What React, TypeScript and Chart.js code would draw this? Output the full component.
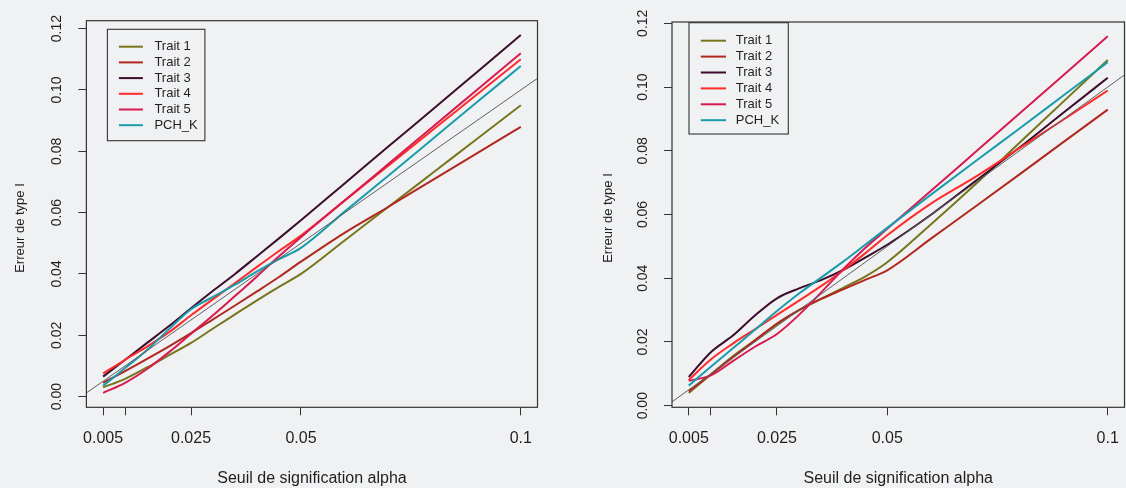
import React, { useEffect, useRef } from 'react';
import { Chart, registerables } from 'chart.js';

Chart.register(...registerables);

// ---------- data ----------
const ALPHA = [0.005, 0.01, 0.015, 0.02, 0.025, 0.03, 0.035, 0.04, 0.045, 0.05, 0.06, 0.07, 0.08, 0.09, 0.1];

const SERIES_LABELS = ['Trait 1', 'Trait 2', 'Trait 3', 'Trait 4', 'Trait 5', 'PCH_K'];
const SERIES_COLORS = ['#77761c', '#b0281e', '#3b0d2d', '#ff2b2b', '#d81b4f', '#1b9cad'];

// left panel
const LEFT_TRAIT1 = [0.003, 0.0058, 0.0095, 0.0135, 0.0175, 0.0222, 0.0268, 0.0314, 0.0358, 0.040, 0.051, 0.062, 0.073, 0.084, 0.095];
const LEFT_TRAIT2 = [0.0045, 0.0083, 0.0123, 0.0164, 0.0207, 0.0252, 0.0297, 0.0343, 0.039, 0.044, 0.0535, 0.062, 0.0707, 0.0793, 0.088];
const LEFT_TRAIT3 = [0.0065, 0.012, 0.0175, 0.023, 0.0288, 0.0345, 0.040, 0.0458, 0.0516, 0.0575, 0.0696, 0.0817, 0.0937, 0.1058, 0.1179];
const LEFT_TRAIT4 = [0.0075, 0.012, 0.0163, 0.021, 0.0265, 0.0318, 0.037, 0.0423, 0.0475, 0.0525, 0.064, 0.0755, 0.087, 0.0985, 0.110];
const LEFT_TRAIT5 = [0.0012, 0.0045, 0.009, 0.0145, 0.0205, 0.0265, 0.0328, 0.0392, 0.0458, 0.052, 0.064, 0.076, 0.088, 0.100, 0.112];
const LEFT_PCH_K = [0.0035, 0.0093, 0.0152, 0.022, 0.0285, 0.0325, 0.0365, 0.0408, 0.0448, 0.0485, 0.0604, 0.0722, 0.0841, 0.096, 0.1078];

// right panel
const RIGHT_TRAIT1 = [0.004, 0.0098, 0.0155, 0.0205, 0.0255, 0.030, 0.0335, 0.037, 0.0405, 0.045, 0.057, 0.0695, 0.0825, 0.0955, 0.1085];
const RIGHT_TRAIT2 = [0.0045, 0.0098, 0.0152, 0.0205, 0.0258, 0.030, 0.0335, 0.0365, 0.0395, 0.0425, 0.0525, 0.0625, 0.0726, 0.0828, 0.0929];
const RIGHT_TRAIT3 = [0.009, 0.0168, 0.022, 0.0283, 0.0337, 0.0368, 0.0394, 0.0426, 0.0465, 0.0505, 0.060, 0.0705, 0.081, 0.092, 0.1029];
const RIGHT_TRAIT4 = [0.0081, 0.0145, 0.0195, 0.024, 0.0285, 0.033, 0.0375, 0.0425, 0.0478, 0.0535, 0.0635, 0.0718, 0.0808, 0.0898, 0.0989];
const RIGHT_TRAIT5 = [0.0078, 0.0095, 0.014, 0.0185, 0.0225, 0.0285, 0.0355, 0.0428, 0.0495, 0.0555, 0.0675, 0.0796, 0.0917, 0.1038, 0.1159];
const RIGHT_PCH_K = [0.0063, 0.0122, 0.018, 0.0238, 0.0297, 0.0352, 0.0402, 0.0452, 0.0505, 0.0558, 0.0663, 0.0767, 0.087, 0.0974, 0.1078];

const LEFT_SERIES = [LEFT_TRAIT1, LEFT_TRAIT2, LEFT_TRAIT3, LEFT_TRAIT4, LEFT_TRAIT5, LEFT_PCH_K];
const RIGHT_SERIES = [RIGHT_TRAIT1, RIGHT_TRAIT2, RIGHT_TRAIT3, RIGHT_TRAIT4, RIGHT_TRAIT5, RIGHT_PCH_K];

const X_TICKS = [0.005, 0.01, 0.025, 0.05, 0.1];
const X_TICK_LABELS = ['0.005', '', '0.025', '0.05', '0.1'];
const Y_TICKS = [0, 0.02, 0.04, 0.06, 0.08, 0.1, 0.12];
const Y_TICK_LABELS = ['0.00', '0.02', '0.04', '0.06', '0.08', '0.10', '0.12'];
const DIAGONAL = [0, 0.2];

const X_TITLE = 'Seuil de signification alpha';
const Y_TITLE = 'Erreur de type I';

const X_MIN = 0.0012;
const X_MAX = 0.1038;

// ---------- styling / layout ----------
const FONT = '"Liberation Sans", Arial, Helvetica, sans-serif';
const TEXT = '#1f1f1f';
const AXIS = '#333333';
const BG = '#f0f1f3';
const CANVAS_W = 563;
const CANVAS_H = 488;

type LegendLayout = {
  boxX: number; boxY: number; boxW: number; boxH: number;
  lineX0: number; lineX1: number; textX: number; row0: number; rowGap: number;
};
type PanelLayout = {
  left: number; yAxisWidth: number; padTop: number; padRight: number; xAxisHeight: number;
  yMin: number; yMax: number; yTitleX: number; yTitleY: number; yTitleSize: number;
  legend: LegendLayout;
};

const LEFT_LAYOUT: PanelLayout = {
  left: 0, yAxisWidth: 86.4, padTop: 20.7, padRight: 25.5, xAxisHeight: 80.7,
  yMin: -0.0035, yMax: 0.1226, yTitleX: 20, yTitleY: 228, yTitleSize: 13,
  legend: { boxX: 21, boxY: 8.6, boxW: 97.5, boxH: 111.4, lineX0: 32.5, lineX1: 56.5, textX: 68, row0: 26, rowGap: 15.7 },
};
const RIGHT_LAYOUT: PanelLayout = {
  left: 563, yAxisWidth: 109, padTop: 22, padRight: 1.5, xAxisHeight: 80.7,
  yMin: -0.0005, yMax: 0.1204, yTitleX: 45.7, yTitleY: 218, yTitleSize: 13,
  legend: { boxX: 17, boxY: 0.7, boxW: 99.3, boxH: 111.3, lineX0: 28.8, lineX1: 54, textX: 63.8, row0: 18.7, rowGap: 15.9 },
};

const boxPlugin = {
  id: 'plotBox',
  afterDatasetsDraw(chart: any) {
    const { ctx, chartArea: a } = chart;
    ctx.save();
    ctx.strokeStyle = AXIS;
    ctx.lineWidth = 1.2;
    ctx.strokeRect(a.left, a.top, a.right - a.left, a.bottom - a.top);
    ctx.restore();
  },
};

function makeLegendPlugin(lg: LegendLayout) {
  return {
    id: 'rLegend',
    afterDraw(chart: any) {
      const { ctx, chartArea: a } = chart;
      ctx.save();
      ctx.strokeStyle = AXIS;
      ctx.lineWidth = 1.1;
      ctx.strokeRect(a.left + lg.boxX, a.top + lg.boxY, lg.boxW, lg.boxH);
      ctx.font = `13px ${FONT}`;
      ctx.textBaseline = 'middle';
      ctx.textAlign = 'left';
      const items = chart.data.datasets.filter((d: any) => SERIES_LABELS.includes(d.label));
      items.forEach((d: any, i: number) => {
        const y = a.top + lg.row0 + i * lg.rowGap;
        ctx.strokeStyle = d.borderColor;
        ctx.lineWidth = 2;
        ctx.beginPath();
        ctx.moveTo(a.left + lg.lineX0, y);
        ctx.lineTo(a.left + lg.lineX1, y);
        ctx.stroke();
        ctx.fillStyle = TEXT;
        ctx.fillText(d.label, a.left + lg.textX, y);
      });
      ctx.restore();
    },
  };
}

function makeYTitlePlugin(p: PanelLayout) {
  return {
    id: 'yTitle',
    afterDraw(chart: any) {
      const { ctx } = chart;
      ctx.save();
      ctx.translate(p.yTitleX, p.yTitleY);
      ctx.rotate(-Math.PI / 2);
      ctx.font = `${p.yTitleSize}px ${FONT}`;
      ctx.fillStyle = TEXT;
      ctx.textAlign = 'center';
      ctx.textBaseline = 'middle';
      ctx.fillText(Y_TITLE, 0, 0);
      ctx.restore();
    },
  };
}

function Panel({ series, layout }: { series: number[][]; layout: PanelLayout }) {
  const ref = useRef<HTMLCanvasElement>(null);
  useEffect(() => {
    const canvas = ref.current;
    if (!canvas) return;
    const datasets: any[] = [
      {
        label: 'diag',
        data: DIAGONAL.map((v) => ({ x: v, y: v })),
        borderColor: '#5f5f5f',
        borderWidth: 1,
        pointRadius: 0,
        tension: 0,
        order: -1,
      },
      ...series.map((vals, i) => ({
        label: SERIES_LABELS[i],
        data: ALPHA.map((a, j) => ({ x: a, y: vals[j] })),
        borderColor: SERIES_COLORS[i],
        borderWidth: 2,
        pointRadius: 0,
        cubicInterpolationMode: 'monotone',
        order: 10 - i,
      })),
    ];
    const chart = new Chart(canvas, {
      type: 'line',
      data: { datasets },
      options: {
        responsive: false,
        animation: false,
        events: [],
        layout: { padding: { left: 0, top: layout.padTop, right: layout.padRight, bottom: 0 } },
        plugins: { legend: { display: false }, tooltip: { enabled: false } },
        scales: {
          x: {
            type: 'linear',
            min: X_MIN,
            max: X_MAX,
            afterBuildTicks: (s: any) => { s.ticks = X_TICKS.map((v) => ({ value: v })); },
            afterFit: (s: any) => { s.height = layout.xAxisHeight; s.paddingLeft = 0; s.paddingRight = 0; },
            ticks: {
              autoSkip: false, maxRotation: 0, minRotation: 0, padding: 14, color: TEXT,
              font: { size: 16, family: FONT },
              callback: (_v: any, i: number) => X_TICK_LABELS[i],
            },
            grid: { drawOnChartArea: false, drawTicks: true, tickLength: 8, color: AXIS, lineWidth: 1 },
            border: { display: false },
            title: { display: true, text: X_TITLE, color: TEXT, font: { size: 16, family: FONT }, padding: { top: 0, bottom: 0 } },
          },
          y: {
            type: 'linear',
            min: layout.yMin,
            max: layout.yMax,
            afterBuildTicks: (s: any) => { s.ticks = Y_TICKS.map((v) => ({ value: v })); },
            afterFit: (s: any) => { s.width = layout.yAxisWidth; s.paddingTop = 0; s.paddingBottom = 0; },
            ticks: {
              autoSkip: false, minRotation: 90, maxRotation: 90, crossAlign: 'center', padding: 7.5, color: TEXT,
              font: { size: 14, family: FONT },
              callback: (_v: any, i: number) => Y_TICK_LABELS[i],
            },
            grid: { drawOnChartArea: false, drawTicks: true, tickLength: 8, color: AXIS, lineWidth: 1 },
            border: { display: false },
          },
        },
      } as any,
      plugins: [boxPlugin, makeLegendPlugin(layout.legend), makeYTitlePlugin(layout)],
    });
    return () => chart.destroy();
  }, [series, layout]);
  return (
    <canvas
      ref={ref}
      width={CANVAS_W}
      height={CANVAS_H}
      style={{ position: 'absolute', left: layout.left, top: 0, width: CANVAS_W, height: CANVAS_H }}
    />
  );
}

export default function App() {
  return (
    <div style={{ position: 'fixed', left: 0, top: 0, width: 1126, height: 488, background: BG, overflow: 'hidden' }}>
      <Panel series={LEFT_SERIES} layout={LEFT_LAYOUT} />
      <Panel series={RIGHT_SERIES} layout={RIGHT_LAYOUT} />
    </div>
  );
}
